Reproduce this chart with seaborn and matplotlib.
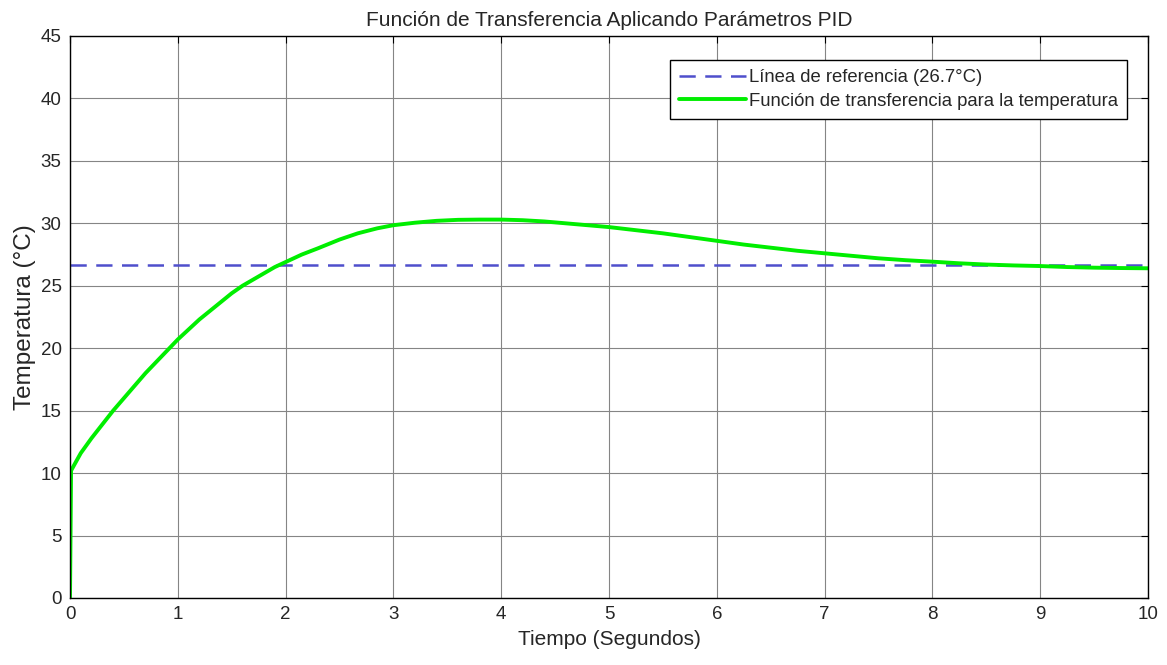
import matplotlib
matplotlib.use("Agg")
import matplotlib.pyplot as plt
import seaborn as sns
import pandas as pd

time = [0, 0.01, 0.1, 0.2, 0.3, 0.4, 0.5, 0.6, 0.7, 0.8, 0.9, 1.0, 1.1, 1.2, 1.3, 1.4,
        1.5, 1.6, 1.7, 1.8, 1.9, 2.0, 2.15, 2.3, 2.5, 2.67, 2.85, 3.0, 3.2, 3.4, 3.6,
        3.8, 4.0, 4.2, 4.4, 4.6, 4.8, 5.0, 5.25, 5.5, 5.75, 6.0, 6.25, 6.5, 6.75, 7.0,
        7.25, 7.5, 7.75, 8.0, 8.25, 8.5, 8.75, 9.0, 9.25, 9.5, 9.75, 10.0]
temp = [0, 10.2, 11.6, 12.8, 13.9, 15.0, 16.0, 17.0, 18.0, 18.9, 19.8, 20.7, 21.5, 22.3,
        23.0, 23.7, 24.4, 25.0, 25.5, 26.0, 26.5, 26.9, 27.5, 28.0, 28.7, 29.2, 29.6,
        29.85, 30.05, 30.2, 30.28, 30.3, 30.3, 30.25, 30.15, 30.0, 29.85, 29.7, 29.45,
        29.2, 28.9, 28.6, 28.3, 28.05, 27.8, 27.6, 27.4, 27.2, 27.05, 26.93, 26.8, 26.7,
        26.63, 26.58, 26.5, 26.45, 26.42, 26.4]
ref_time = [0, 10]
ref_temp = [26.7, 26.7]

xticks = list(range(0, 11))
yticks = list(range(0, 46, 5))

sns.set_style("white")
plt.rcParams['font.family'] = ['Liberation Sans', 'DejaVu Sans']

fig = plt.figure(figsize=(11.67, 6.65), dpi=100)
ax = fig.add_axes([70/1167, 67/665, 1078/1167, 562/665])

df = pd.DataFrame({"t": time, "y": temp})
dref = pd.DataFrame({"t": ref_time, "y": ref_temp})

sns.lineplot(data=dref, x="t", y="y", ax=ax, color="#4f4fcc", linewidth=1.8,
             linestyle=(0, (6.5, 3.8)), label="Línea de referencia (26.7°C)",
             estimator=None, sort=False)
sns.lineplot(data=df, x="t", y="y", ax=ax, color="#00ee00", linewidth=2.8,
             label="Función de transferencia para la temperatura",
             estimator=None, sort=False)

ax.set_xlim(0, 10)
ax.set_ylim(0, 45)
ax.set_xticks(xticks)
ax.set_yticks(yticks)
ax.grid(True, color="#858585", linewidth=0.8)
ax.set_axisbelow(True)
for s in ax.spines.values():
    s.set_color("black")
    s.set_linewidth(1.0)
ax.tick_params(direction="in", length=5, width=0.8, top=True, right=True,
               labelsize=13.5, colors="black", pad=6)
for lbl in ax.get_xticklabels() + ax.get_yticklabels():
    lbl.set_color("#262626")

ax.set_xlabel("Tiempo (Segundos)", fontsize=15, color="#262626", labelpad=5)
ax.set_ylabel("Temperatura (°C)", fontsize=17.5, color="#262626", labelpad=3)
ax.set_title("Función de Transferencia Aplicando Parámetros PID", fontsize=15,
             color="#262626", pad=7)

leg = ax.legend(loc="upper right", bbox_to_anchor=(0.9805, 0.957), fontsize=13.3,
                frameon=True, fancybox=False, edgecolor="black", framealpha=1,
                handlelength=3.6, handletextpad=0.15, borderpad=0.5,
                labelspacing=0.35, borderaxespad=0)
leg.get_frame().set_linewidth(1.0)

fig.savefig("out.png", dpi=100)
